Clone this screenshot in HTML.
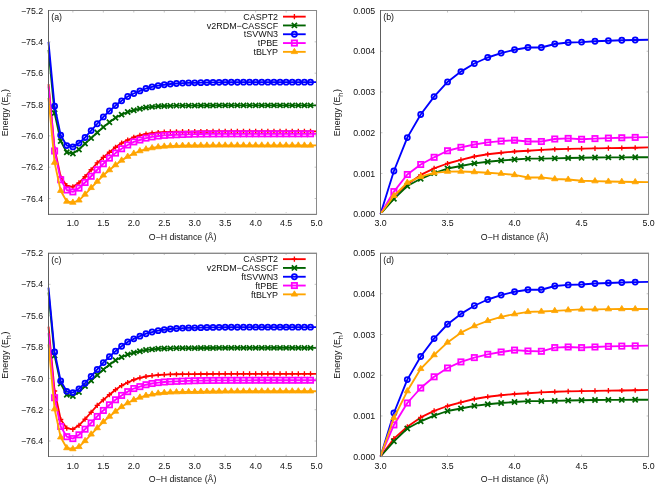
<!DOCTYPE html>
<html><head><meta charset="utf-8"><title>O-H dissociation curves</title>
<style>
html,body{margin:0;padding:0;background:#fff;}
body{width:664px;height:485px;overflow:hidden;font-family:"Liberation Sans",sans-serif;}
svg{display:block;will-change:transform;transform:translateZ(0);}
text{font-family:"Liberation Sans",sans-serif;}
</style></head><body>
<svg width="664" height="485" viewBox="0 0 664 485" font-family="Liberation Sans, sans-serif" font-size="8.8" fill="#111">
<rect width="664" height="485" fill="#fff"/>
<g transform="translate(0,0)">
<polyline points="48.5,84.2 54.59,148.5 60.69,177 66.78,185.7 72.87,186.8 78.97,182.9 85.06,176.7 91.15,169.75 97.25,162.9 103.34,157.4 109.43,152.25 115.53,147.25 121.62,143.1 127.71,140 133.8,137.25 139.9,135.4 145.99,134 152.08,133.1 158.18,132.5 164.27,132.1 170.36,131.9 176.46,131.75 182.55,131.7 188.64,131.65 194.74,131.6 200.83,131.53 206.92,131.48 213.02,131.45 219.11,131.42 225.2,131.41 231.3,131.39 237.39,131.38 243.48,131.37 249.57,131.36 255.67,131.36 261.76,131.36 267.85,131.35 273.95,131.35 280.04,131.35 286.13,131.35 292.23,131.35 298.32,131.35 304.41,131.35 310.51,131.34 316.6,131.34" fill="none" stroke="#ff0000" stroke-width="1.85" stroke-linejoin="round"/>
<g fill="none" stroke="#ff0000" stroke-width="1.35">
<path d="M51.99 148.5H57.19M54.59 145.9V151.1"/>
<path d="M58.09 177H63.29M60.69 174.4V179.6"/>
<path d="M64.18 185.7H69.38M66.78 183.1V188.3"/>
<path d="M70.27 186.8H75.47M72.87 184.2V189.4"/>
<path d="M76.37 182.9H81.57M78.97 180.3V185.5"/>
<path d="M82.46 176.7H87.66M85.06 174.1V179.3"/>
<path d="M88.55 169.75H93.75M91.15 167.15V172.35"/>
<path d="M94.65 162.9H99.85M97.25 160.3V165.5"/>
<path d="M100.74 157.4H105.94M103.34 154.8V160"/>
<path d="M106.83 152.25H112.03M109.43 149.65V154.85"/>
<path d="M112.93 147.25H118.12M115.53 144.65V149.85"/>
<path d="M119.02 143.1H124.22M121.62 140.5V145.7"/>
<path d="M125.11 140H130.31M127.71 137.4V142.6"/>
<path d="M131.2 137.25H136.4M133.8 134.65V139.85"/>
<path d="M137.3 135.4H142.5M139.9 132.8V138"/>
<path d="M143.39 134H148.59M145.99 131.4V136.6"/>
<path d="M149.48 133.1H154.68M152.08 130.5V135.7"/>
<path d="M155.58 132.5H160.78M158.18 129.9V135.1"/>
<path d="M161.67 132.1H166.87M164.27 129.5V134.7"/>
<path d="M167.76 131.9H172.96M170.36 129.3V134.5"/>
<path d="M173.86 131.75H179.06M176.46 129.15V134.35"/>
<path d="M179.95 131.7H185.15M182.55 129.1V134.3"/>
<path d="M186.04 131.65H191.24M188.64 129.05V134.25"/>
<path d="M192.14 131.6H197.34M194.74 129V134.2"/>
<path d="M198.23 131.53H203.43M200.83 128.93V134.13"/>
<path d="M204.32 131.48H209.52M206.92 128.88V134.08"/>
<path d="M210.42 131.45H215.62M213.02 128.85V134.05"/>
<path d="M216.51 131.42H221.71M219.11 128.82V134.02"/>
<path d="M222.6 131.41H227.8M225.2 128.81V134"/>
<path d="M228.7 131.39H233.9M231.3 128.79V133.99"/>
<path d="M234.79 131.38H239.99M237.39 128.78V133.98"/>
<path d="M240.88 131.37H246.08M243.48 128.77V133.97"/>
<path d="M246.97 131.36H252.17M249.57 128.76V133.96"/>
<path d="M253.07 131.36H258.27M255.67 128.76V133.96"/>
<path d="M259.16 131.36H264.36M261.76 128.76V133.96"/>
<path d="M265.25 131.35H270.45M267.85 128.75V133.95"/>
<path d="M271.35 131.35H276.55M273.95 128.75V133.95"/>
<path d="M277.44 131.35H282.64M280.04 128.75V133.95"/>
<path d="M283.53 131.35H288.73M286.13 128.75V133.95"/>
<path d="M289.63 131.35H294.83M292.23 128.75V133.95"/>
<path d="M295.72 131.35H300.92M298.32 128.75V133.95"/>
<path d="M301.81 131.35H307.01M304.41 128.75V133.95"/>
<path d="M307.91 131.34H313.11M310.51 128.74V133.94"/>
</g>
<polyline points="48.5,50 54.59,113.1 60.69,141.1 66.78,152.25 72.87,153.5 78.97,149.5 85.06,143.6 91.15,138.1 97.25,132.5 103.34,127.1 109.43,122.25 115.53,117.75 121.62,114.6 127.71,112 133.8,110.25 139.9,108.75 145.99,107.5 152.08,106.9 158.18,106.25 164.27,106 170.36,105.8 176.46,105.7 182.55,105.65 188.64,105.6 194.74,105.6 200.83,105.54 206.92,105.49 213.02,105.46 219.11,105.44 225.2,105.42 231.3,105.41 237.39,105.4 243.48,105.4 249.57,105.39 255.67,105.39 261.76,105.39 267.85,105.39 273.95,105.39 280.04,105.38 286.13,105.38 292.23,105.38 298.32,105.38 304.41,105.38 310.51,105.38 316.6,105.38" fill="none" stroke="#006400" stroke-width="1.85" stroke-linejoin="round"/>
<g fill="none" stroke="#006400" stroke-width="1.75">
<path d="M52.04 110.55L57.14 115.65M52.04 115.65L57.14 110.55"/>
<path d="M58.14 138.55L63.24 143.65M58.14 143.65L63.24 138.55"/>
<path d="M64.23 149.7L69.33 154.8M64.23 154.8L69.33 149.7"/>
<path d="M70.32 150.95L75.42 156.05M70.32 156.05L75.42 150.95"/>
<path d="M76.42 146.95L81.52 152.05M76.42 152.05L81.52 146.95"/>
<path d="M82.51 141.05L87.61 146.15M82.51 146.15L87.61 141.05"/>
<path d="M88.6 135.55L93.7 140.65M88.6 140.65L93.7 135.55"/>
<path d="M94.7 129.95L99.8 135.05M94.7 135.05L99.8 129.95"/>
<path d="M100.79 124.55L105.89 129.65M100.79 129.65L105.89 124.55"/>
<path d="M106.88 119.7L111.98 124.8M106.88 124.8L111.98 119.7"/>
<path d="M112.98 115.2L118.08 120.3M112.98 120.3L118.08 115.2"/>
<path d="M119.07 112.05L124.17 117.15M119.07 117.15L124.17 112.05"/>
<path d="M125.16 109.45L130.26 114.55M125.16 114.55L130.26 109.45"/>
<path d="M131.25 107.7L136.35 112.8M131.25 112.8L136.35 107.7"/>
<path d="M137.35 106.2L142.45 111.3M137.35 111.3L142.45 106.2"/>
<path d="M143.44 104.95L148.54 110.05M143.44 110.05L148.54 104.95"/>
<path d="M149.53 104.35L154.63 109.45M149.53 109.45L154.63 104.35"/>
<path d="M155.63 103.7L160.73 108.8M155.63 108.8L160.73 103.7"/>
<path d="M161.72 103.45L166.82 108.55M161.72 108.55L166.82 103.45"/>
<path d="M167.81 103.25L172.91 108.35M167.81 108.35L172.91 103.25"/>
<path d="M173.91 103.15L179.01 108.25M173.91 108.25L179.01 103.15"/>
<path d="M180 103.1L185.1 108.2M180 108.2L185.1 103.1"/>
<path d="M186.09 103.05L191.19 108.15M186.09 108.15L191.19 103.05"/>
<path d="M192.19 103.05L197.29 108.15M192.19 108.15L197.29 103.05"/>
<path d="M198.28 102.99L203.38 108.09M198.28 108.09L203.38 102.99"/>
<path d="M204.37 102.94L209.47 108.04M204.37 108.04L209.47 102.94"/>
<path d="M210.47 102.91L215.57 108.01M210.47 108.01L215.57 102.91"/>
<path d="M216.56 102.89L221.66 107.99M216.56 107.99L221.66 102.89"/>
<path d="M222.65 102.87L227.75 107.97M222.65 107.97L227.75 102.87"/>
<path d="M228.75 102.86L233.85 107.96M228.75 107.96L233.85 102.86"/>
<path d="M234.84 102.85L239.94 107.95M234.84 107.95L239.94 102.85"/>
<path d="M240.93 102.85L246.03 107.95M240.93 107.95L246.03 102.85"/>
<path d="M247.02 102.84L252.12 107.94M247.02 107.94L252.12 102.84"/>
<path d="M253.12 102.84L258.22 107.94M253.12 107.94L258.22 102.84"/>
<path d="M259.21 102.84L264.31 107.94M259.21 107.94L264.31 102.84"/>
<path d="M265.3 102.84L270.4 107.94M265.3 107.94L270.4 102.84"/>
<path d="M271.4 102.84L276.5 107.94M271.4 107.94L276.5 102.84"/>
<path d="M277.49 102.83L282.59 107.93M277.49 107.93L282.59 102.83"/>
<path d="M283.58 102.83L288.68 107.93M283.58 107.93L288.68 102.83"/>
<path d="M289.68 102.83L294.78 107.93M289.68 107.93L294.78 102.83"/>
<path d="M295.77 102.83L300.87 107.93M295.77 107.93L300.87 102.83"/>
<path d="M301.86 102.83L306.96 107.93M301.86 107.93L306.96 102.83"/>
<path d="M307.96 102.83L313.06 107.93M307.96 107.93L313.06 102.83"/>
</g>
<polyline points="48.5,42 54.59,106.25 60.69,135.25 66.78,145.6 72.87,146.9 78.97,143.1 85.06,137.5 91.15,130.6 97.25,123.75 103.34,116.9 109.43,111 115.53,105.6 121.62,100.8 127.71,96.5 133.8,93.5 139.9,90.9 145.99,88.5 152.08,86.9 158.18,85.6 164.27,84.75 170.36,84 176.46,83.5 182.55,83.1 188.64,82.9 194.74,82.8 200.83,82.63 206.92,82.51 213.02,82.42 219.11,82.35 225.2,82.29 231.3,82.25 237.39,82.22 243.48,82.2 249.57,82.18 255.67,82.17 261.76,82.16 267.85,82.16 273.95,82.15 280.04,82.14 286.13,82.14 292.23,82.13 298.32,82.13 304.41,82.13 310.51,82.13 316.6,82.13" fill="none" stroke="#0000ff" stroke-width="1.85" stroke-linejoin="round"/>
<g fill="none" stroke="#0000ff" stroke-width="1.75">
<circle cx="54.59" cy="106.25" r="2.55"/>
<circle cx="60.69" cy="135.25" r="2.55"/>
<circle cx="66.78" cy="145.6" r="2.55"/>
<circle cx="72.87" cy="146.9" r="2.55"/>
<circle cx="78.97" cy="143.1" r="2.55"/>
<circle cx="85.06" cy="137.5" r="2.55"/>
<circle cx="91.15" cy="130.6" r="2.55"/>
<circle cx="97.25" cy="123.75" r="2.55"/>
<circle cx="103.34" cy="116.9" r="2.55"/>
<circle cx="109.43" cy="111" r="2.55"/>
<circle cx="115.53" cy="105.6" r="2.55"/>
<circle cx="121.62" cy="100.8" r="2.55"/>
<circle cx="127.71" cy="96.5" r="2.55"/>
<circle cx="133.8" cy="93.5" r="2.55"/>
<circle cx="139.9" cy="90.9" r="2.55"/>
<circle cx="145.99" cy="88.5" r="2.55"/>
<circle cx="152.08" cy="86.9" r="2.55"/>
<circle cx="158.18" cy="85.6" r="2.55"/>
<circle cx="164.27" cy="84.75" r="2.55"/>
<circle cx="170.36" cy="84" r="2.55"/>
<circle cx="176.46" cy="83.5" r="2.55"/>
<circle cx="182.55" cy="83.1" r="2.55"/>
<circle cx="188.64" cy="82.9" r="2.55"/>
<circle cx="194.74" cy="82.8" r="2.55"/>
<circle cx="200.83" cy="82.63" r="2.55"/>
<circle cx="206.92" cy="82.51" r="2.55"/>
<circle cx="213.02" cy="82.42" r="2.55"/>
<circle cx="219.11" cy="82.35" r="2.55"/>
<circle cx="225.2" cy="82.29" r="2.55"/>
<circle cx="231.3" cy="82.25" r="2.55"/>
<circle cx="237.39" cy="82.22" r="2.55"/>
<circle cx="243.48" cy="82.2" r="2.55"/>
<circle cx="249.57" cy="82.18" r="2.55"/>
<circle cx="255.67" cy="82.17" r="2.55"/>
<circle cx="261.76" cy="82.16" r="2.55"/>
<circle cx="267.85" cy="82.16" r="2.55"/>
<circle cx="273.95" cy="82.15" r="2.55"/>
<circle cx="280.04" cy="82.14" r="2.55"/>
<circle cx="286.13" cy="82.14" r="2.55"/>
<circle cx="292.23" cy="82.13" r="2.55"/>
<circle cx="298.32" cy="82.13" r="2.55"/>
<circle cx="304.41" cy="82.13" r="2.55"/>
<circle cx="310.51" cy="82.13" r="2.55"/>
</g>
<polyline points="48.5,86.5 54.59,151 60.69,179.75 66.78,190 72.87,191.9 78.97,188.1 85.06,182.5 91.15,176.25 97.25,169.75 103.34,163.75 109.43,158.1 115.53,153.1 121.62,148.75 127.71,145 133.8,141.9 139.9,140 145.99,138.1 152.08,136.9 158.18,136 164.27,135.4 170.36,135 176.46,134.75 182.55,134.5 188.64,134.3 194.74,134.1 200.83,134.01 206.92,133.95 213.02,133.91 219.11,133.88 225.2,133.86 231.3,133.84 237.39,133.83 243.48,133.82 249.57,133.82 255.67,133.82 261.76,133.82 267.85,133.82 273.95,133.81 280.04,133.81 286.13,133.81 292.23,133.81 298.32,133.81 304.41,133.81 310.51,133.8 316.6,133.8" fill="none" stroke="#ff00ff" stroke-width="1.85" stroke-linejoin="round"/>
<g fill="none" stroke="#ff00ff" stroke-width="1.75">
<rect x="51.94" y="148.35" width="5.3" height="5.3"/>
<rect x="58.04" y="177.1" width="5.3" height="5.3"/>
<rect x="64.13" y="187.35" width="5.3" height="5.3"/>
<rect x="70.22" y="189.25" width="5.3" height="5.3"/>
<rect x="76.32" y="185.45" width="5.3" height="5.3"/>
<rect x="82.41" y="179.85" width="5.3" height="5.3"/>
<rect x="88.5" y="173.6" width="5.3" height="5.3"/>
<rect x="94.6" y="167.1" width="5.3" height="5.3"/>
<rect x="100.69" y="161.1" width="5.3" height="5.3"/>
<rect x="106.78" y="155.45" width="5.3" height="5.3"/>
<rect x="112.88" y="150.45" width="5.3" height="5.3"/>
<rect x="118.97" y="146.1" width="5.3" height="5.3"/>
<rect x="125.06" y="142.35" width="5.3" height="5.3"/>
<rect x="131.15" y="139.25" width="5.3" height="5.3"/>
<rect x="137.25" y="137.35" width="5.3" height="5.3"/>
<rect x="143.34" y="135.45" width="5.3" height="5.3"/>
<rect x="149.43" y="134.25" width="5.3" height="5.3"/>
<rect x="155.53" y="133.35" width="5.3" height="5.3"/>
<rect x="161.62" y="132.75" width="5.3" height="5.3"/>
<rect x="167.71" y="132.35" width="5.3" height="5.3"/>
<rect x="173.81" y="132.1" width="5.3" height="5.3"/>
<rect x="179.9" y="131.85" width="5.3" height="5.3"/>
<rect x="185.99" y="131.65" width="5.3" height="5.3"/>
<rect x="192.09" y="131.45" width="5.3" height="5.3"/>
<rect x="198.18" y="131.36" width="5.3" height="5.3"/>
<rect x="204.27" y="131.3" width="5.3" height="5.3"/>
<rect x="210.37" y="131.26" width="5.3" height="5.3"/>
<rect x="216.46" y="131.23" width="5.3" height="5.3"/>
<rect x="222.55" y="131.21" width="5.3" height="5.3"/>
<rect x="228.65" y="131.19" width="5.3" height="5.3"/>
<rect x="234.74" y="131.18" width="5.3" height="5.3"/>
<rect x="240.83" y="131.17" width="5.3" height="5.3"/>
<rect x="246.92" y="131.17" width="5.3" height="5.3"/>
<rect x="253.02" y="131.17" width="5.3" height="5.3"/>
<rect x="259.11" y="131.17" width="5.3" height="5.3"/>
<rect x="265.2" y="131.17" width="5.3" height="5.3"/>
<rect x="271.3" y="131.16" width="5.3" height="5.3"/>
<rect x="277.39" y="131.16" width="5.3" height="5.3"/>
<rect x="283.48" y="131.16" width="5.3" height="5.3"/>
<rect x="289.58" y="131.16" width="5.3" height="5.3"/>
<rect x="295.67" y="131.16" width="5.3" height="5.3"/>
<rect x="301.76" y="131.16" width="5.3" height="5.3"/>
<rect x="307.86" y="131.15" width="5.3" height="5.3"/>
</g>
<polyline points="48.5,97.8 54.59,162.6 60.69,190.7 66.78,201.5 72.87,202.5 78.97,200.3 85.06,194.4 91.15,187.8 97.25,181.5 103.34,175.3 109.43,170 115.53,165 121.62,160.4 127.71,156.6 133.8,153.5 139.9,151 145.99,149.2 152.08,148 158.18,147 164.27,146.4 170.36,146 176.46,145.8 182.55,145.6 188.64,145.5 194.74,145.5 200.83,145.43 206.92,145.38 213.02,145.36 219.11,145.34 225.2,145.34 231.3,145.34 237.39,145.34 243.48,145.34 249.57,145.34 255.67,145.35 261.76,145.36 267.85,145.36 273.95,145.36 280.04,145.37 286.13,145.37 292.23,145.37 298.32,145.37 304.41,145.38 310.51,145.38 316.6,145.38" fill="none" stroke="#ffa500" stroke-width="1.85" stroke-linejoin="round"/>
<g fill="#ffa500" stroke="#ffa500" stroke-width="0.8">
<path d="M54.59 159.05L57.79 164.35H51.39Z"/>
<path d="M60.69 187.15L63.89 192.45H57.49Z"/>
<path d="M66.78 197.95L69.98 203.25H63.58Z"/>
<path d="M72.87 198.95L76.07 204.25H69.67Z"/>
<path d="M78.97 196.75L82.17 202.05H75.77Z"/>
<path d="M85.06 190.85L88.26 196.15H81.86Z"/>
<path d="M91.15 184.25L94.35 189.55H87.95Z"/>
<path d="M97.25 177.95L100.45 183.25H94.05Z"/>
<path d="M103.34 171.75L106.54 177.05H100.14Z"/>
<path d="M109.43 166.45L112.63 171.75H106.23Z"/>
<path d="M115.53 161.45L118.73 166.75H112.33Z"/>
<path d="M121.62 156.85L124.82 162.15H118.42Z"/>
<path d="M127.71 153.05L130.91 158.35H124.51Z"/>
<path d="M133.8 149.95L137 155.25H130.6Z"/>
<path d="M139.9 147.45L143.1 152.75H136.7Z"/>
<path d="M145.99 145.65L149.19 150.95H142.79Z"/>
<path d="M152.08 144.45L155.28 149.75H148.88Z"/>
<path d="M158.18 143.45L161.38 148.75H154.98Z"/>
<path d="M164.27 142.85L167.47 148.15H161.07Z"/>
<path d="M170.36 142.45L173.56 147.75H167.16Z"/>
<path d="M176.46 142.25L179.66 147.55H173.26Z"/>
<path d="M182.55 142.05L185.75 147.35H179.35Z"/>
<path d="M188.64 141.95L191.84 147.25H185.44Z"/>
<path d="M194.74 141.95L197.94 147.25H191.54Z"/>
<path d="M200.83 141.88L204.03 147.18H197.63Z"/>
<path d="M206.92 141.83L210.12 147.13H203.72Z"/>
<path d="M213.02 141.81L216.22 147.11H209.82Z"/>
<path d="M219.11 141.79L222.31 147.09H215.91Z"/>
<path d="M225.2 141.79L228.4 147.09H222Z"/>
<path d="M231.3 141.79L234.5 147.09H228.1Z"/>
<path d="M237.39 141.79L240.59 147.09H234.19Z"/>
<path d="M243.48 141.79L246.68 147.09H240.28Z"/>
<path d="M249.57 141.79L252.77 147.09H246.38Z"/>
<path d="M255.67 141.8L258.87 147.1H252.47Z"/>
<path d="M261.76 141.81L264.96 147.11H258.56Z"/>
<path d="M267.85 141.81L271.05 147.11H264.65Z"/>
<path d="M273.95 141.81L277.15 147.11H270.75Z"/>
<path d="M280.04 141.82L283.24 147.12H276.84Z"/>
<path d="M286.13 141.82L289.33 147.12H282.93Z"/>
<path d="M292.23 141.82L295.43 147.12H289.03Z"/>
<path d="M298.32 141.82L301.52 147.12H295.12Z"/>
<path d="M304.41 141.83L307.61 147.13H301.21Z"/>
<path d="M310.51 141.83L313.71 147.13H307.31Z"/>
</g>
<text x="278.1" y="19.8" text-anchor="end" font-size="8.95">CASPT2</text>
<path d="M283 16.65H305.7" stroke="#ff0000" stroke-width="1.85" fill="none"/>
<g fill="none" stroke="#ff0000" stroke-width="1.35"><path d="M291.8 16.65H297M294.4 14.05V19.25"/></g>
<text x="278.1" y="28.6" text-anchor="end" font-size="8.95">v2RDM−CASSCF</text>
<path d="M283 25.45H305.7" stroke="#006400" stroke-width="1.85" fill="none"/>
<g fill="none" stroke="#006400" stroke-width="1.75"><path d="M291.85 22.9L296.95 28M291.85 28L296.95 22.9"/></g>
<text x="278.1" y="37.4" text-anchor="end" font-size="8.95">tSVWN3</text>
<path d="M283 34.25H305.7" stroke="#0000ff" stroke-width="1.85" fill="none"/>
<g fill="none" stroke="#0000ff" stroke-width="1.75"><circle cx="294.4" cy="34.25" r="2.55"/></g>
<text x="278.1" y="46.2" text-anchor="end" font-size="8.95">tPBE</text>
<path d="M283 43.05H305.7" stroke="#ff00ff" stroke-width="1.85" fill="none"/>
<g fill="none" stroke="#ff00ff" stroke-width="1.75"><rect x="291.75" y="40.4" width="5.3" height="5.3"/></g>
<text x="278.1" y="55" text-anchor="end" font-size="8.95">tBLYP</text>
<path d="M283 51.85H305.7" stroke="#ffa500" stroke-width="1.85" fill="none"/>
<g fill="#ffa500" stroke="#ffa500" stroke-width="0.8"><path d="M294.4 48.3L297.6 53.6H291.2Z"/></g>
<path d="M72.87 214.2v-2.0M72.87 10.5v2.0M103.34 214.2v-2.0M103.34 10.5v2.0M133.8 214.2v-2.0M133.8 10.5v2.0M164.27 214.2v-2.0M164.27 10.5v2.0M194.74 214.2v-2.0M194.74 10.5v2.0M225.2 214.2v-2.0M225.2 10.5v2.0M255.67 214.2v-2.0M255.67 10.5v2.0M286.13 214.2v-2.0M286.13 10.5v2.0M316.6 214.2v-2.0M316.6 10.5v2.0M48.5 198.53h2.0M316.6 198.53h-2.0M48.5 167.19h2.0M316.6 167.19h-2.0M48.5 135.85h2.0M316.6 135.85h-2.0M48.5 104.52h2.0M316.6 104.52h-2.0M48.5 73.18h2.0M316.6 73.18h-2.0M48.5 41.84h2.0M316.6 41.84h-2.0M48.5 10.5h2.0M316.6 10.5h-2.0" stroke="#8a8a8a" stroke-width="0.5" fill="none"/>
<path d="M48 213.5H317" stroke="#e8e8e8" stroke-width="1" fill="none"/>
<path d="M48 214.5H317" stroke="#7c7c7c" stroke-width="1" fill="none"/>
<path d="M48 10.5H317" stroke="#888" stroke-width="1" fill="none"/>
<path d="M316.5 10V215" stroke="#8a8a8a" stroke-width="1" fill="none"/>
<path d="M48.5 10V215" stroke="#5e5e5e" stroke-width="1" fill="none"/>
<text x="72.87" y="226" text-anchor="middle">1.0</text>
<text x="103.34" y="226" text-anchor="middle">1.5</text>
<text x="133.8" y="226" text-anchor="middle">2.0</text>
<text x="164.27" y="226" text-anchor="middle">2.5</text>
<text x="194.74" y="226" text-anchor="middle">3.0</text>
<text x="225.2" y="226" text-anchor="middle">3.5</text>
<text x="255.67" y="226" text-anchor="middle">4.0</text>
<text x="286.13" y="226" text-anchor="middle">4.5</text>
<text x="316.6" y="226" text-anchor="middle">5.0</text>
<text x="43.2" y="201.68" text-anchor="end">−76.4</text>
<text x="43.2" y="170.34" text-anchor="end">−76.2</text>
<text x="43.2" y="139" text-anchor="end">−76.0</text>
<text x="43.2" y="107.67" text-anchor="end">−75.8</text>
<text x="43.2" y="76.33" text-anchor="end">−75.6</text>
<text x="43.2" y="44.99" text-anchor="end">−75.4</text>
<text x="43.2" y="13.65" text-anchor="end">−75.2</text>
<text x="182.55" y="239.75" text-anchor="middle">O−H distance (Å)</text>
<text transform="translate(8.25,112.65) rotate(-90)" text-anchor="middle" font-size="8.9">Energy (E<tspan font-size="7.2" dy="2.8">h</tspan><tspan dy="-2.8" dx="0.6">)</tspan></text>
<text x="51.3" y="20.2">(a)</text>
</g>
<g transform="translate(332,0)">
<polyline points="48.5,214 61.91,196.1 75.31,184.25 88.71,174.9 102.12,168.4 115.53,163.5 128.93,159.9 142.34,156.5 155.74,154.25 169.14,152.75 182.55,151.5 195.95,150.75 209.36,149.9 222.76,149.25 236.17,148.9 249.58,148.6 262.98,148.4 276.39,148.1 289.79,148 303.2,147.75 316.6,147.3" fill="none" stroke="#ff0000" stroke-width="1.85" stroke-linejoin="round"/>
<g fill="none" stroke="#ff0000" stroke-width="1.35">
<path d="M59.31 196.1H64.51M61.91 193.5V198.7"/>
<path d="M72.71 184.25H77.91M75.31 181.65V186.85"/>
<path d="M86.11 174.9H91.31M88.71 172.3V177.5"/>
<path d="M99.52 168.4H104.72M102.12 165.8V171"/>
<path d="M112.93 163.5H118.12M115.53 160.9V166.1"/>
<path d="M126.33 159.9H131.53M128.93 157.3V162.5"/>
<path d="M139.74 156.5H144.94M142.34 153.9V159.1"/>
<path d="M153.14 154.25H158.34M155.74 151.65V156.85"/>
<path d="M166.54 152.75H171.74M169.14 150.15V155.35"/>
<path d="M179.95 151.5H185.15M182.55 148.9V154.1"/>
<path d="M193.35 150.75H198.55M195.95 148.15V153.35"/>
<path d="M206.76 149.9H211.96M209.36 147.3V152.5"/>
<path d="M220.16 149.25H225.36M222.76 146.65V151.85"/>
<path d="M233.57 148.9H238.77M236.17 146.3V151.5"/>
<path d="M246.98 148.6H252.18M249.58 146V151.2"/>
<path d="M260.38 148.4H265.58M262.98 145.8V151"/>
<path d="M273.79 148.1H278.99M276.39 145.5V150.7"/>
<path d="M287.19 148H292.39M289.79 145.4V150.6"/>
<path d="M300.6 147.75H305.8M303.2 145.15V150.35"/>
</g>
<polyline points="48.5,214 61.91,198.8 75.31,186 88.71,178.8 102.12,173.2 115.53,168.5 128.93,166 142.34,163.4 155.74,161.75 169.14,160.5 182.55,159.5 195.95,158.7 209.36,158.6 222.76,158.4 236.17,158 249.58,157.75 262.98,157.5 276.39,157.4 289.79,157.4 303.2,157.25 316.6,157.25" fill="none" stroke="#006400" stroke-width="1.85" stroke-linejoin="round"/>
<g fill="none" stroke="#006400" stroke-width="1.75">
<path d="M59.36 196.25L64.46 201.35M59.36 201.35L64.46 196.25"/>
<path d="M72.76 183.45L77.86 188.55M72.76 188.55L77.86 183.45"/>
<path d="M86.16 176.25L91.26 181.35M86.16 181.35L91.26 176.25"/>
<path d="M99.57 170.65L104.67 175.75M99.57 175.75L104.67 170.65"/>
<path d="M112.98 165.95L118.08 171.05M112.98 171.05L118.08 165.95"/>
<path d="M126.38 163.45L131.48 168.55M126.38 168.55L131.48 163.45"/>
<path d="M139.79 160.85L144.89 165.95M139.79 165.95L144.89 160.85"/>
<path d="M153.19 159.2L158.29 164.3M153.19 164.3L158.29 159.2"/>
<path d="M166.59 157.95L171.69 163.05M166.59 163.05L171.69 157.95"/>
<path d="M180 156.95L185.1 162.05M180 162.05L185.1 156.95"/>
<path d="M193.4 156.15L198.5 161.25M193.4 161.25L198.5 156.15"/>
<path d="M206.81 156.05L211.91 161.15M206.81 161.15L211.91 156.05"/>
<path d="M220.21 155.85L225.31 160.95M220.21 160.95L225.31 155.85"/>
<path d="M233.62 155.45L238.72 160.55M233.62 160.55L238.72 155.45"/>
<path d="M247.03 155.2L252.13 160.3M247.03 160.3L252.13 155.2"/>
<path d="M260.43 154.95L265.53 160.05M260.43 160.05L265.53 154.95"/>
<path d="M273.84 154.85L278.94 159.95M273.84 159.95L278.94 154.85"/>
<path d="M287.24 154.85L292.34 159.95M287.24 159.95L292.34 154.85"/>
<path d="M300.65 154.7L305.75 159.8M300.65 159.8L305.75 154.7"/>
</g>
<polyline points="48.5,214 61.91,171 75.31,137.6 88.71,114.5 102.12,96.6 115.53,81.9 128.93,71.6 142.34,63.5 155.74,57.5 169.14,53.1 182.55,49.75 195.95,47.5 209.36,47.5 222.76,44 236.17,42.5 249.58,42.1 262.98,41.25 276.39,40.75 289.79,40.25 303.2,40 316.6,39.75" fill="none" stroke="#0000ff" stroke-width="1.85" stroke-linejoin="round"/>
<g fill="none" stroke="#0000ff" stroke-width="1.75">
<circle cx="61.91" cy="171" r="2.55"/>
<circle cx="75.31" cy="137.6" r="2.55"/>
<circle cx="88.71" cy="114.5" r="2.55"/>
<circle cx="102.12" cy="96.6" r="2.55"/>
<circle cx="115.53" cy="81.9" r="2.55"/>
<circle cx="128.93" cy="71.6" r="2.55"/>
<circle cx="142.34" cy="63.5" r="2.55"/>
<circle cx="155.74" cy="57.5" r="2.55"/>
<circle cx="169.14" cy="53.1" r="2.55"/>
<circle cx="182.55" cy="49.75" r="2.55"/>
<circle cx="195.95" cy="47.5" r="2.55"/>
<circle cx="209.36" cy="47.5" r="2.55"/>
<circle cx="222.76" cy="44" r="2.55"/>
<circle cx="236.17" cy="42.5" r="2.55"/>
<circle cx="249.58" cy="42.1" r="2.55"/>
<circle cx="262.98" cy="41.25" r="2.55"/>
<circle cx="276.39" cy="40.75" r="2.55"/>
<circle cx="289.79" cy="40.25" r="2.55"/>
<circle cx="303.2" cy="40" r="2.55"/>
</g>
<polyline points="48.5,214 61.91,191.6 75.31,174.5 88.71,164.5 102.12,157.3 115.53,150.75 128.93,147.3 142.34,144.5 155.74,142.4 169.14,141.1 182.55,140.25 195.95,141.5 209.36,141.5 222.76,139 236.17,138.4 249.58,139.25 262.98,138.6 276.39,138.1 289.79,137.75 303.2,137.4 316.6,137.1" fill="none" stroke="#ff00ff" stroke-width="1.85" stroke-linejoin="round"/>
<g fill="none" stroke="#ff00ff" stroke-width="1.75">
<rect x="59.26" y="188.95" width="5.3" height="5.3"/>
<rect x="72.66" y="171.85" width="5.3" height="5.3"/>
<rect x="86.06" y="161.85" width="5.3" height="5.3"/>
<rect x="99.47" y="154.65" width="5.3" height="5.3"/>
<rect x="112.88" y="148.1" width="5.3" height="5.3"/>
<rect x="126.28" y="144.65" width="5.3" height="5.3"/>
<rect x="139.69" y="141.85" width="5.3" height="5.3"/>
<rect x="153.09" y="139.75" width="5.3" height="5.3"/>
<rect x="166.49" y="138.45" width="5.3" height="5.3"/>
<rect x="179.9" y="137.6" width="5.3" height="5.3"/>
<rect x="193.3" y="138.85" width="5.3" height="5.3"/>
<rect x="206.71" y="138.85" width="5.3" height="5.3"/>
<rect x="220.11" y="136.35" width="5.3" height="5.3"/>
<rect x="233.52" y="135.75" width="5.3" height="5.3"/>
<rect x="246.93" y="136.6" width="5.3" height="5.3"/>
<rect x="260.33" y="135.95" width="5.3" height="5.3"/>
<rect x="273.74" y="135.45" width="5.3" height="5.3"/>
<rect x="287.14" y="135.1" width="5.3" height="5.3"/>
<rect x="300.55" y="134.75" width="5.3" height="5.3"/>
</g>
<polyline points="48.5,214 61.91,195.75 75.31,182.6 88.71,176.7 102.12,172.9 115.53,171.6 128.93,171.5 142.34,172 155.74,172.75 169.14,173.6 182.55,174.9 195.95,177.5 209.36,177.4 222.76,179 236.17,179.5 249.58,180.75 262.98,181.1 276.39,181.5 289.79,181.75 303.2,182 316.6,182.1" fill="none" stroke="#ffa500" stroke-width="1.85" stroke-linejoin="round"/>
<g fill="#ffa500" stroke="#ffa500" stroke-width="0.8">
<path d="M61.91 192.2L65.11 197.5H58.71Z"/>
<path d="M75.31 179.05L78.51 184.35H72.11Z"/>
<path d="M88.71 173.15L91.91 178.45H85.51Z"/>
<path d="M102.12 169.35L105.32 174.65H98.92Z"/>
<path d="M115.53 168.05L118.73 173.35H112.33Z"/>
<path d="M128.93 167.95L132.13 173.25H125.73Z"/>
<path d="M142.34 168.45L145.54 173.75H139.14Z"/>
<path d="M155.74 169.2L158.94 174.5H152.54Z"/>
<path d="M169.14 170.05L172.34 175.35H165.94Z"/>
<path d="M182.55 171.35L185.75 176.65H179.35Z"/>
<path d="M195.95 173.95L199.15 179.25H192.75Z"/>
<path d="M209.36 173.85L212.56 179.15H206.16Z"/>
<path d="M222.76 175.45L225.96 180.75H219.56Z"/>
<path d="M236.17 175.95L239.37 181.25H232.97Z"/>
<path d="M249.58 177.2L252.78 182.5H246.38Z"/>
<path d="M262.98 177.55L266.18 182.85H259.78Z"/>
<path d="M276.39 177.95L279.59 183.25H273.19Z"/>
<path d="M289.79 178.2L292.99 183.5H286.59Z"/>
<path d="M303.2 178.45L306.4 183.75H300Z"/>
</g>
<path d="M48.5 214.2v-2.0M48.5 10.5v2.0M115.53 214.2v-2.0M115.53 10.5v2.0M182.55 214.2v-2.0M182.55 10.5v2.0M249.58 214.2v-2.0M249.58 10.5v2.0M316.6 214.2v-2.0M316.6 10.5v2.0M48.5 214.2h2.0M316.6 214.2h-2.0M48.5 173.46h2.0M316.6 173.46h-2.0M48.5 132.72h2.0M316.6 132.72h-2.0M48.5 91.98h2.0M316.6 91.98h-2.0M48.5 51.24h2.0M316.6 51.24h-2.0M48.5 10.5h2.0M316.6 10.5h-2.0" stroke="#8a8a8a" stroke-width="0.5" fill="none"/>
<path d="M48 213.5H317" stroke="#e8e8e8" stroke-width="1" fill="none"/>
<path d="M48 214.5H317" stroke="#7c7c7c" stroke-width="1" fill="none"/>
<path d="M48 10.5H317" stroke="#888" stroke-width="1" fill="none"/>
<path d="M316.5 10V215" stroke="#8a8a8a" stroke-width="1" fill="none"/>
<path d="M48.5 10V215" stroke="#5e5e5e" stroke-width="1" fill="none"/>
<text x="48.5" y="226" text-anchor="middle">3.0</text>
<text x="115.53" y="226" text-anchor="middle">3.5</text>
<text x="182.55" y="226" text-anchor="middle">4.0</text>
<text x="249.58" y="226" text-anchor="middle">4.5</text>
<text x="316.6" y="226" text-anchor="middle">5.0</text>
<text x="43.2" y="217.35" text-anchor="end">0.000</text>
<text x="43.2" y="176.61" text-anchor="end">0.001</text>
<text x="43.2" y="135.87" text-anchor="end">0.002</text>
<text x="43.2" y="95.13" text-anchor="end">0.003</text>
<text x="43.2" y="54.39" text-anchor="end">0.004</text>
<text x="43.2" y="13.65" text-anchor="end">0.005</text>
<text x="182.55" y="239.75" text-anchor="middle">O−H distance (Å)</text>
<text transform="translate(8.25,112.65) rotate(-90)" text-anchor="middle" font-size="8.9">Energy (E<tspan font-size="7.2" dy="2.8">h</tspan><tspan dy="-2.8" dx="0.6">)</tspan></text>
<text x="51.3" y="20.2">(b)</text>
</g>
<g transform="translate(0,242.5)">
<polyline points="48.5,84.2 54.59,148.5 60.69,177 66.78,185.7 72.87,186.8 78.97,182.9 85.06,176.7 91.15,169.75 97.25,162.9 103.34,157.4 109.43,152.25 115.53,147.25 121.62,143.1 127.71,140 133.8,137.25 139.9,135.4 145.99,134 152.08,133.1 158.18,132.5 164.27,132.1 170.36,131.9 176.46,131.75 182.55,131.7 188.64,131.65 194.74,131.6 200.83,131.53 206.92,131.48 213.02,131.45 219.11,131.42 225.2,131.41 231.3,131.39 237.39,131.38 243.48,131.37 249.57,131.36 255.67,131.36 261.76,131.36 267.85,131.35 273.95,131.35 280.04,131.35 286.13,131.35 292.23,131.35 298.32,131.35 304.41,131.35 310.51,131.34 316.6,131.34" fill="none" stroke="#ff0000" stroke-width="1.85" stroke-linejoin="round"/>
<g fill="none" stroke="#ff0000" stroke-width="1.35">
<path d="M51.99 148.5H57.19M54.59 145.9V151.1"/>
<path d="M58.09 177H63.29M60.69 174.4V179.6"/>
<path d="M64.18 185.7H69.38M66.78 183.1V188.3"/>
<path d="M70.27 186.8H75.47M72.87 184.2V189.4"/>
<path d="M76.37 182.9H81.57M78.97 180.3V185.5"/>
<path d="M82.46 176.7H87.66M85.06 174.1V179.3"/>
<path d="M88.55 169.75H93.75M91.15 167.15V172.35"/>
<path d="M94.65 162.9H99.85M97.25 160.3V165.5"/>
<path d="M100.74 157.4H105.94M103.34 154.8V160"/>
<path d="M106.83 152.25H112.03M109.43 149.65V154.85"/>
<path d="M112.93 147.25H118.12M115.53 144.65V149.85"/>
<path d="M119.02 143.1H124.22M121.62 140.5V145.7"/>
<path d="M125.11 140H130.31M127.71 137.4V142.6"/>
<path d="M131.2 137.25H136.4M133.8 134.65V139.85"/>
<path d="M137.3 135.4H142.5M139.9 132.8V138"/>
<path d="M143.39 134H148.59M145.99 131.4V136.6"/>
<path d="M149.48 133.1H154.68M152.08 130.5V135.7"/>
<path d="M155.58 132.5H160.78M158.18 129.9V135.1"/>
<path d="M161.67 132.1H166.87M164.27 129.5V134.7"/>
<path d="M167.76 131.9H172.96M170.36 129.3V134.5"/>
<path d="M173.86 131.75H179.06M176.46 129.15V134.35"/>
<path d="M179.95 131.7H185.15M182.55 129.1V134.3"/>
<path d="M186.04 131.65H191.24M188.64 129.05V134.25"/>
<path d="M192.14 131.6H197.34M194.74 129V134.2"/>
<path d="M198.23 131.53H203.43M200.83 128.93V134.13"/>
<path d="M204.32 131.48H209.52M206.92 128.88V134.08"/>
<path d="M210.42 131.45H215.62M213.02 128.85V134.05"/>
<path d="M216.51 131.42H221.71M219.11 128.82V134.02"/>
<path d="M222.6 131.41H227.8M225.2 128.81V134"/>
<path d="M228.7 131.39H233.9M231.3 128.79V133.99"/>
<path d="M234.79 131.38H239.99M237.39 128.78V133.98"/>
<path d="M240.88 131.37H246.08M243.48 128.77V133.97"/>
<path d="M246.97 131.36H252.17M249.57 128.76V133.96"/>
<path d="M253.07 131.36H258.27M255.67 128.76V133.96"/>
<path d="M259.16 131.36H264.36M261.76 128.76V133.96"/>
<path d="M265.25 131.35H270.45M267.85 128.75V133.95"/>
<path d="M271.35 131.35H276.55M273.95 128.75V133.95"/>
<path d="M277.44 131.35H282.64M280.04 128.75V133.95"/>
<path d="M283.53 131.35H288.73M286.13 128.75V133.95"/>
<path d="M289.63 131.35H294.83M292.23 128.75V133.95"/>
<path d="M295.72 131.35H300.92M298.32 128.75V133.95"/>
<path d="M301.81 131.35H307.01M304.41 128.75V133.95"/>
<path d="M307.91 131.34H313.11M310.51 128.74V133.94"/>
</g>
<polyline points="48.5,50 54.59,113.1 60.69,141.1 66.78,152.25 72.87,153.5 78.97,149.5 85.06,143.6 91.15,138.1 97.25,132.5 103.34,127.1 109.43,122.25 115.53,117.75 121.62,114.6 127.71,112 133.8,110.25 139.9,108.75 145.99,107.5 152.08,106.9 158.18,106.25 164.27,106 170.36,105.8 176.46,105.7 182.55,105.65 188.64,105.6 194.74,105.6 200.83,105.54 206.92,105.49 213.02,105.46 219.11,105.44 225.2,105.42 231.3,105.41 237.39,105.4 243.48,105.4 249.57,105.39 255.67,105.39 261.76,105.39 267.85,105.39 273.95,105.39 280.04,105.38 286.13,105.38 292.23,105.38 298.32,105.38 304.41,105.38 310.51,105.38 316.6,105.38" fill="none" stroke="#006400" stroke-width="1.85" stroke-linejoin="round"/>
<g fill="none" stroke="#006400" stroke-width="1.75">
<path d="M52.04 110.55L57.14 115.65M52.04 115.65L57.14 110.55"/>
<path d="M58.14 138.55L63.24 143.65M58.14 143.65L63.24 138.55"/>
<path d="M64.23 149.7L69.33 154.8M64.23 154.8L69.33 149.7"/>
<path d="M70.32 150.95L75.42 156.05M70.32 156.05L75.42 150.95"/>
<path d="M76.42 146.95L81.52 152.05M76.42 152.05L81.52 146.95"/>
<path d="M82.51 141.05L87.61 146.15M82.51 146.15L87.61 141.05"/>
<path d="M88.6 135.55L93.7 140.65M88.6 140.65L93.7 135.55"/>
<path d="M94.7 129.95L99.8 135.05M94.7 135.05L99.8 129.95"/>
<path d="M100.79 124.55L105.89 129.65M100.79 129.65L105.89 124.55"/>
<path d="M106.88 119.7L111.98 124.8M106.88 124.8L111.98 119.7"/>
<path d="M112.98 115.2L118.08 120.3M112.98 120.3L118.08 115.2"/>
<path d="M119.07 112.05L124.17 117.15M119.07 117.15L124.17 112.05"/>
<path d="M125.16 109.45L130.26 114.55M125.16 114.55L130.26 109.45"/>
<path d="M131.25 107.7L136.35 112.8M131.25 112.8L136.35 107.7"/>
<path d="M137.35 106.2L142.45 111.3M137.35 111.3L142.45 106.2"/>
<path d="M143.44 104.95L148.54 110.05M143.44 110.05L148.54 104.95"/>
<path d="M149.53 104.35L154.63 109.45M149.53 109.45L154.63 104.35"/>
<path d="M155.63 103.7L160.73 108.8M155.63 108.8L160.73 103.7"/>
<path d="M161.72 103.45L166.82 108.55M161.72 108.55L166.82 103.45"/>
<path d="M167.81 103.25L172.91 108.35M167.81 108.35L172.91 103.25"/>
<path d="M173.91 103.15L179.01 108.25M173.91 108.25L179.01 103.15"/>
<path d="M180 103.1L185.1 108.2M180 108.2L185.1 103.1"/>
<path d="M186.09 103.05L191.19 108.15M186.09 108.15L191.19 103.05"/>
<path d="M192.19 103.05L197.29 108.15M192.19 108.15L197.29 103.05"/>
<path d="M198.28 102.99L203.38 108.09M198.28 108.09L203.38 102.99"/>
<path d="M204.37 102.94L209.47 108.04M204.37 108.04L209.47 102.94"/>
<path d="M210.47 102.91L215.57 108.01M210.47 108.01L215.57 102.91"/>
<path d="M216.56 102.89L221.66 107.99M216.56 107.99L221.66 102.89"/>
<path d="M222.65 102.87L227.75 107.97M222.65 107.97L227.75 102.87"/>
<path d="M228.75 102.86L233.85 107.96M228.75 107.96L233.85 102.86"/>
<path d="M234.84 102.85L239.94 107.95M234.84 107.95L239.94 102.85"/>
<path d="M240.93 102.85L246.03 107.95M240.93 107.95L246.03 102.85"/>
<path d="M247.02 102.84L252.12 107.94M247.02 107.94L252.12 102.84"/>
<path d="M253.12 102.84L258.22 107.94M253.12 107.94L258.22 102.84"/>
<path d="M259.21 102.84L264.31 107.94M259.21 107.94L264.31 102.84"/>
<path d="M265.3 102.84L270.4 107.94M265.3 107.94L270.4 102.84"/>
<path d="M271.4 102.84L276.5 107.94M271.4 107.94L276.5 102.84"/>
<path d="M277.49 102.83L282.59 107.93M277.49 107.93L282.59 102.83"/>
<path d="M283.58 102.83L288.68 107.93M283.58 107.93L288.68 102.83"/>
<path d="M289.68 102.83L294.78 107.93M289.68 107.93L294.78 102.83"/>
<path d="M295.77 102.83L300.87 107.93M295.77 107.93L300.87 102.83"/>
<path d="M301.86 102.83L306.96 107.93M301.86 107.93L306.96 102.83"/>
<path d="M307.96 102.83L313.06 107.93M307.96 107.93L313.06 102.83"/>
</g>
<polyline points="48.5,45.2 54.59,109.45 60.69,138.45 66.78,148.8 72.87,150.1 78.97,146.3 85.06,140.7 91.15,133.8 97.25,126.95 103.34,120.1 109.43,114.13 115.53,108.66 121.62,103.79 127.71,99.42 133.8,96.35 139.9,93.68 145.99,91.21 152.08,89.54 158.18,88.17 164.27,87.25 170.36,86.5 176.46,86 182.55,85.6 188.64,85.4 194.74,85.3 200.83,85.13 206.92,85.01 213.02,84.92 219.11,84.85 225.2,84.79 231.3,84.75 237.39,84.72 243.48,84.7 249.57,84.68 255.67,84.67 261.76,84.66 267.85,84.66 273.95,84.65 280.04,84.64 286.13,84.64 292.23,84.63 298.32,84.63 304.41,84.63 310.51,84.63 316.6,84.63" fill="none" stroke="#0000ff" stroke-width="1.85" stroke-linejoin="round"/>
<g fill="none" stroke="#0000ff" stroke-width="1.75">
<circle cx="54.59" cy="109.45" r="2.55"/>
<circle cx="60.69" cy="138.45" r="2.55"/>
<circle cx="66.78" cy="148.8" r="2.55"/>
<circle cx="72.87" cy="150.1" r="2.55"/>
<circle cx="78.97" cy="146.3" r="2.55"/>
<circle cx="85.06" cy="140.7" r="2.55"/>
<circle cx="91.15" cy="133.8" r="2.55"/>
<circle cx="97.25" cy="126.95" r="2.55"/>
<circle cx="103.34" cy="120.1" r="2.55"/>
<circle cx="109.43" cy="114.13" r="2.55"/>
<circle cx="115.53" cy="108.66" r="2.55"/>
<circle cx="121.62" cy="103.79" r="2.55"/>
<circle cx="127.71" cy="99.42" r="2.55"/>
<circle cx="133.8" cy="96.35" r="2.55"/>
<circle cx="139.9" cy="93.68" r="2.55"/>
<circle cx="145.99" cy="91.21" r="2.55"/>
<circle cx="152.08" cy="89.54" r="2.55"/>
<circle cx="158.18" cy="88.17" r="2.55"/>
<circle cx="164.27" cy="87.25" r="2.55"/>
<circle cx="170.36" cy="86.5" r="2.55"/>
<circle cx="176.46" cy="86" r="2.55"/>
<circle cx="182.55" cy="85.6" r="2.55"/>
<circle cx="188.64" cy="85.4" r="2.55"/>
<circle cx="194.74" cy="85.3" r="2.55"/>
<circle cx="200.83" cy="85.13" r="2.55"/>
<circle cx="206.92" cy="85.01" r="2.55"/>
<circle cx="213.02" cy="84.92" r="2.55"/>
<circle cx="219.11" cy="84.85" r="2.55"/>
<circle cx="225.2" cy="84.79" r="2.55"/>
<circle cx="231.3" cy="84.75" r="2.55"/>
<circle cx="237.39" cy="84.72" r="2.55"/>
<circle cx="243.48" cy="84.7" r="2.55"/>
<circle cx="249.57" cy="84.68" r="2.55"/>
<circle cx="255.67" cy="84.67" r="2.55"/>
<circle cx="261.76" cy="84.66" r="2.55"/>
<circle cx="267.85" cy="84.66" r="2.55"/>
<circle cx="273.95" cy="84.65" r="2.55"/>
<circle cx="280.04" cy="84.64" r="2.55"/>
<circle cx="286.13" cy="84.64" r="2.55"/>
<circle cx="292.23" cy="84.63" r="2.55"/>
<circle cx="298.32" cy="84.63" r="2.55"/>
<circle cx="304.41" cy="84.63" r="2.55"/>
<circle cx="310.51" cy="84.63" r="2.55"/>
</g>
<polyline points="48.5,90.7 54.59,155.2 60.69,183.95 66.78,194.2 72.87,196.1 78.97,192.3 85.06,186.7 91.15,180.45 97.25,173.95 103.34,167.95 109.43,162.29 115.53,157.28 121.62,152.92 127.71,149.16 133.8,146.05 139.9,144.14 145.99,142.23 152.08,141.02 158.18,140.11 164.27,139.5 170.36,139.1 176.46,138.85 182.55,138.6 188.64,138.4 194.74,138.2 200.83,138.08 206.92,137.99 213.02,137.94 219.11,137.89 225.2,137.86 231.3,137.84 237.39,137.82 243.48,137.81 249.57,137.8 255.67,137.79 261.76,137.79 267.85,137.79 273.95,137.78 280.04,137.78 286.13,137.78 292.23,137.78 298.32,137.78 304.41,137.77 310.51,137.77 316.6,137.77" fill="none" stroke="#ff00ff" stroke-width="1.85" stroke-linejoin="round"/>
<g fill="none" stroke="#ff00ff" stroke-width="1.75">
<rect x="51.94" y="152.55" width="5.3" height="5.3"/>
<rect x="58.04" y="181.3" width="5.3" height="5.3"/>
<rect x="64.13" y="191.55" width="5.3" height="5.3"/>
<rect x="70.22" y="193.45" width="5.3" height="5.3"/>
<rect x="76.32" y="189.65" width="5.3" height="5.3"/>
<rect x="82.41" y="184.05" width="5.3" height="5.3"/>
<rect x="88.5" y="177.8" width="5.3" height="5.3"/>
<rect x="94.6" y="171.3" width="5.3" height="5.3"/>
<rect x="100.69" y="165.3" width="5.3" height="5.3"/>
<rect x="106.78" y="159.64" width="5.3" height="5.3"/>
<rect x="112.88" y="154.63" width="5.3" height="5.3"/>
<rect x="118.97" y="150.27" width="5.3" height="5.3"/>
<rect x="125.06" y="146.51" width="5.3" height="5.3"/>
<rect x="131.15" y="143.4" width="5.3" height="5.3"/>
<rect x="137.25" y="141.49" width="5.3" height="5.3"/>
<rect x="143.34" y="139.58" width="5.3" height="5.3"/>
<rect x="149.43" y="138.37" width="5.3" height="5.3"/>
<rect x="155.53" y="137.46" width="5.3" height="5.3"/>
<rect x="161.62" y="136.85" width="5.3" height="5.3"/>
<rect x="167.71" y="136.45" width="5.3" height="5.3"/>
<rect x="173.81" y="136.2" width="5.3" height="5.3"/>
<rect x="179.9" y="135.95" width="5.3" height="5.3"/>
<rect x="185.99" y="135.75" width="5.3" height="5.3"/>
<rect x="192.09" y="135.55" width="5.3" height="5.3"/>
<rect x="198.18" y="135.43" width="5.3" height="5.3"/>
<rect x="204.27" y="135.34" width="5.3" height="5.3"/>
<rect x="210.37" y="135.29" width="5.3" height="5.3"/>
<rect x="216.46" y="135.24" width="5.3" height="5.3"/>
<rect x="222.55" y="135.21" width="5.3" height="5.3"/>
<rect x="228.65" y="135.19" width="5.3" height="5.3"/>
<rect x="234.74" y="135.17" width="5.3" height="5.3"/>
<rect x="240.83" y="135.16" width="5.3" height="5.3"/>
<rect x="246.92" y="135.15" width="5.3" height="5.3"/>
<rect x="253.02" y="135.14" width="5.3" height="5.3"/>
<rect x="259.11" y="135.14" width="5.3" height="5.3"/>
<rect x="265.2" y="135.14" width="5.3" height="5.3"/>
<rect x="271.3" y="135.13" width="5.3" height="5.3"/>
<rect x="277.39" y="135.13" width="5.3" height="5.3"/>
<rect x="283.48" y="135.13" width="5.3" height="5.3"/>
<rect x="289.58" y="135.13" width="5.3" height="5.3"/>
<rect x="295.67" y="135.13" width="5.3" height="5.3"/>
<rect x="301.76" y="135.12" width="5.3" height="5.3"/>
<rect x="307.86" y="135.12" width="5.3" height="5.3"/>
</g>
<polyline points="48.5,101.8 54.59,166.6 60.69,194.7 66.78,205.5 72.87,206.5 78.97,204.3 85.06,198.4 91.15,191.8 97.25,185.5 103.34,179.3 109.43,173.98 115.53,168.96 121.62,164.34 127.71,160.52 133.8,157.4 139.9,154.88 145.99,153.06 152.08,151.84 158.18,150.82 164.27,150.2 170.36,149.8 176.46,149.6 182.55,149.4 188.64,149.3 194.74,149.3 200.83,149.15 206.92,149.05 213.02,148.96 219.11,148.91 225.2,148.86 231.3,148.82 237.39,148.8 243.48,148.78 249.57,148.76 255.67,148.75 261.76,148.74 267.85,148.74 273.95,148.74 280.04,148.74 286.13,148.73 292.23,148.73 298.32,148.73 304.41,148.73 310.51,148.73 316.6,148.73" fill="none" stroke="#ffa500" stroke-width="1.85" stroke-linejoin="round"/>
<g fill="#ffa500" stroke="#ffa500" stroke-width="0.8">
<path d="M54.59 163.05L57.79 168.35H51.39Z"/>
<path d="M60.69 191.15L63.89 196.45H57.49Z"/>
<path d="M66.78 201.95L69.98 207.25H63.58Z"/>
<path d="M72.87 202.95L76.07 208.25H69.67Z"/>
<path d="M78.97 200.75L82.17 206.05H75.77Z"/>
<path d="M85.06 194.85L88.26 200.15H81.86Z"/>
<path d="M91.15 188.25L94.35 193.55H87.95Z"/>
<path d="M97.25 181.95L100.45 187.25H94.05Z"/>
<path d="M103.34 175.75L106.54 181.05H100.14Z"/>
<path d="M109.43 170.43L112.63 175.73H106.23Z"/>
<path d="M115.53 165.41L118.73 170.71H112.33Z"/>
<path d="M121.62 160.79L124.82 166.09H118.42Z"/>
<path d="M127.71 156.97L130.91 162.27H124.51Z"/>
<path d="M133.8 153.85L137 159.15H130.6Z"/>
<path d="M139.9 151.33L143.1 156.63H136.7Z"/>
<path d="M145.99 149.51L149.19 154.81H142.79Z"/>
<path d="M152.08 148.29L155.28 153.59H148.88Z"/>
<path d="M158.18 147.27L161.38 152.57H154.98Z"/>
<path d="M164.27 146.65L167.47 151.95H161.07Z"/>
<path d="M170.36 146.25L173.56 151.55H167.16Z"/>
<path d="M176.46 146.05L179.66 151.35H173.26Z"/>
<path d="M182.55 145.85L185.75 151.15H179.35Z"/>
<path d="M188.64 145.75L191.84 151.05H185.44Z"/>
<path d="M194.74 145.75L197.94 151.05H191.54Z"/>
<path d="M200.83 145.6L204.03 150.9H197.63Z"/>
<path d="M206.92 145.5L210.12 150.8H203.72Z"/>
<path d="M213.02 145.41L216.22 150.71H209.82Z"/>
<path d="M219.11 145.36L222.31 150.66H215.91Z"/>
<path d="M225.2 145.31L228.4 150.61H222Z"/>
<path d="M231.3 145.27L234.5 150.57H228.1Z"/>
<path d="M237.39 145.25L240.59 150.55H234.19Z"/>
<path d="M243.48 145.23L246.68 150.53H240.28Z"/>
<path d="M249.57 145.21L252.77 150.51H246.38Z"/>
<path d="M255.67 145.2L258.87 150.5H252.47Z"/>
<path d="M261.76 145.19L264.96 150.49H258.56Z"/>
<path d="M267.85 145.19L271.05 150.49H264.65Z"/>
<path d="M273.95 145.19L277.15 150.49H270.75Z"/>
<path d="M280.04 145.19L283.24 150.49H276.84Z"/>
<path d="M286.13 145.18L289.33 150.48H282.93Z"/>
<path d="M292.23 145.18L295.43 150.48H289.03Z"/>
<path d="M298.32 145.18L301.52 150.48H295.12Z"/>
<path d="M304.41 145.18L307.61 150.48H301.21Z"/>
<path d="M310.51 145.18L313.71 150.48H307.31Z"/>
</g>
<text x="278.1" y="19.8" text-anchor="end" font-size="8.95">CASPT2</text>
<path d="M283 16.65H305.7" stroke="#ff0000" stroke-width="1.85" fill="none"/>
<g fill="none" stroke="#ff0000" stroke-width="1.35"><path d="M291.8 16.65H297M294.4 14.05V19.25"/></g>
<text x="278.1" y="28.6" text-anchor="end" font-size="8.95">v2RDM−CASSCF</text>
<path d="M283 25.45H305.7" stroke="#006400" stroke-width="1.85" fill="none"/>
<g fill="none" stroke="#006400" stroke-width="1.75"><path d="M291.85 22.9L296.95 28M291.85 28L296.95 22.9"/></g>
<text x="278.1" y="37.4" text-anchor="end" font-size="8.95">ftSVWN3</text>
<path d="M283 34.25H305.7" stroke="#0000ff" stroke-width="1.85" fill="none"/>
<g fill="none" stroke="#0000ff" stroke-width="1.75"><circle cx="294.4" cy="34.25" r="2.55"/></g>
<text x="278.1" y="46.2" text-anchor="end" font-size="8.95">ftPBE</text>
<path d="M283 43.05H305.7" stroke="#ff00ff" stroke-width="1.85" fill="none"/>
<g fill="none" stroke="#ff00ff" stroke-width="1.75"><rect x="291.75" y="40.4" width="5.3" height="5.3"/></g>
<text x="278.1" y="55" text-anchor="end" font-size="8.95">ftBLYP</text>
<path d="M283 51.85H305.7" stroke="#ffa500" stroke-width="1.85" fill="none"/>
<g fill="#ffa500" stroke="#ffa500" stroke-width="0.8"><path d="M294.4 48.3L297.6 53.6H291.2Z"/></g>
<path d="M72.87 214.2v-2.0M72.87 10.5v2.0M103.34 214.2v-2.0M103.34 10.5v2.0M133.8 214.2v-2.0M133.8 10.5v2.0M164.27 214.2v-2.0M164.27 10.5v2.0M194.74 214.2v-2.0M194.74 10.5v2.0M225.2 214.2v-2.0M225.2 10.5v2.0M255.67 214.2v-2.0M255.67 10.5v2.0M286.13 214.2v-2.0M286.13 10.5v2.0M316.6 214.2v-2.0M316.6 10.5v2.0M48.5 198.53h2.0M316.6 198.53h-2.0M48.5 167.19h2.0M316.6 167.19h-2.0M48.5 135.85h2.0M316.6 135.85h-2.0M48.5 104.52h2.0M316.6 104.52h-2.0M48.5 73.18h2.0M316.6 73.18h-2.0M48.5 41.84h2.0M316.6 41.84h-2.0M48.5 10.5h2.0M316.6 10.5h-2.0" stroke="#8a8a8a" stroke-width="0.5" fill="none"/>
<path d="M48 10.0H317" stroke="#d0d0d0" stroke-width="1" fill="none"/>
<path d="M48 11.0H317" stroke="#8a8a8a" stroke-width="1" fill="none"/>
<path d="M48 214.0H317" stroke="#8a8a8a" stroke-width="1" fill="none"/>
<path d="M316.5 10.5V214.5" stroke="#8a8a8a" stroke-width="1" fill="none"/>
<path d="M48.5 10.5V214.5" stroke="#5e5e5e" stroke-width="1" fill="none"/>
<text x="72.87" y="226" text-anchor="middle">1.0</text>
<text x="103.34" y="226" text-anchor="middle">1.5</text>
<text x="133.8" y="226" text-anchor="middle">2.0</text>
<text x="164.27" y="226" text-anchor="middle">2.5</text>
<text x="194.74" y="226" text-anchor="middle">3.0</text>
<text x="225.2" y="226" text-anchor="middle">3.5</text>
<text x="255.67" y="226" text-anchor="middle">4.0</text>
<text x="286.13" y="226" text-anchor="middle">4.5</text>
<text x="316.6" y="226" text-anchor="middle">5.0</text>
<text x="43.2" y="201.68" text-anchor="end">−76.4</text>
<text x="43.2" y="170.34" text-anchor="end">−76.2</text>
<text x="43.2" y="139" text-anchor="end">−76.0</text>
<text x="43.2" y="107.67" text-anchor="end">−75.8</text>
<text x="43.2" y="76.33" text-anchor="end">−75.6</text>
<text x="43.2" y="44.99" text-anchor="end">−75.4</text>
<text x="43.2" y="13.65" text-anchor="end">−75.2</text>
<text x="182.55" y="239.75" text-anchor="middle">O−H distance (Å)</text>
<text transform="translate(8.25,112.65) rotate(-90)" text-anchor="middle" font-size="8.9">Energy (E<tspan font-size="7.2" dy="2.8">h</tspan><tspan dy="-2.8" dx="0.6">)</tspan></text>
<text x="51.3" y="20.2">(c)</text>
</g>
<g transform="translate(332,242.5)">
<polyline points="48.5,214 61.91,196.1 75.31,184.25 88.71,174.9 102.12,168.4 115.53,163.5 128.93,159.9 142.34,156.5 155.74,154.25 169.14,152.75 182.55,151.5 195.95,150.75 209.36,149.9 222.76,149.25 236.17,148.9 249.58,148.6 262.98,148.4 276.39,148.1 289.79,148 303.2,147.75 316.6,147.3" fill="none" stroke="#ff0000" stroke-width="1.85" stroke-linejoin="round"/>
<g fill="none" stroke="#ff0000" stroke-width="1.35">
<path d="M59.31 196.1H64.51M61.91 193.5V198.7"/>
<path d="M72.71 184.25H77.91M75.31 181.65V186.85"/>
<path d="M86.11 174.9H91.31M88.71 172.3V177.5"/>
<path d="M99.52 168.4H104.72M102.12 165.8V171"/>
<path d="M112.93 163.5H118.12M115.53 160.9V166.1"/>
<path d="M126.33 159.9H131.53M128.93 157.3V162.5"/>
<path d="M139.74 156.5H144.94M142.34 153.9V159.1"/>
<path d="M153.14 154.25H158.34M155.74 151.65V156.85"/>
<path d="M166.54 152.75H171.74M169.14 150.15V155.35"/>
<path d="M179.95 151.5H185.15M182.55 148.9V154.1"/>
<path d="M193.35 150.75H198.55M195.95 148.15V153.35"/>
<path d="M206.76 149.9H211.96M209.36 147.3V152.5"/>
<path d="M220.16 149.25H225.36M222.76 146.65V151.85"/>
<path d="M233.57 148.9H238.77M236.17 146.3V151.5"/>
<path d="M246.98 148.6H252.18M249.58 146V151.2"/>
<path d="M260.38 148.4H265.58M262.98 145.8V151"/>
<path d="M273.79 148.1H278.99M276.39 145.5V150.7"/>
<path d="M287.19 148H292.39M289.79 145.4V150.6"/>
<path d="M300.6 147.75H305.8M303.2 145.15V150.35"/>
</g>
<polyline points="48.5,214 61.91,198.8 75.31,186 88.71,178.8 102.12,173.2 115.53,168.5 128.93,166 142.34,163.4 155.74,161.75 169.14,160.5 182.55,159.5 195.95,158.7 209.36,158.6 222.76,158.4 236.17,158 249.58,157.75 262.98,157.5 276.39,157.4 289.79,157.4 303.2,157.25 316.6,157.25" fill="none" stroke="#006400" stroke-width="1.85" stroke-linejoin="round"/>
<g fill="none" stroke="#006400" stroke-width="1.75">
<path d="M59.36 196.25L64.46 201.35M59.36 201.35L64.46 196.25"/>
<path d="M72.76 183.45L77.86 188.55M72.76 188.55L77.86 183.45"/>
<path d="M86.16 176.25L91.26 181.35M86.16 181.35L91.26 176.25"/>
<path d="M99.57 170.65L104.67 175.75M99.57 175.75L104.67 170.65"/>
<path d="M112.98 165.95L118.08 171.05M112.98 171.05L118.08 165.95"/>
<path d="M126.38 163.45L131.48 168.55M126.38 168.55L131.48 163.45"/>
<path d="M139.79 160.85L144.89 165.95M139.79 165.95L144.89 160.85"/>
<path d="M153.19 159.2L158.29 164.3M153.19 164.3L158.29 159.2"/>
<path d="M166.59 157.95L171.69 163.05M166.59 163.05L171.69 157.95"/>
<path d="M180 156.95L185.1 162.05M180 162.05L185.1 156.95"/>
<path d="M193.4 156.15L198.5 161.25M193.4 161.25L198.5 156.15"/>
<path d="M206.81 156.05L211.91 161.15M206.81 161.15L211.91 156.05"/>
<path d="M220.21 155.85L225.31 160.95M220.21 160.95L225.31 155.85"/>
<path d="M233.62 155.45L238.72 160.55M233.62 160.55L238.72 155.45"/>
<path d="M247.03 155.2L252.13 160.3M247.03 160.3L252.13 155.2"/>
<path d="M260.43 154.95L265.53 160.05M260.43 160.05L265.53 154.95"/>
<path d="M273.84 154.85L278.94 159.95M273.84 159.95L278.94 154.85"/>
<path d="M287.24 154.85L292.34 159.95M287.24 159.95L292.34 154.85"/>
<path d="M300.65 154.7L305.75 159.8M300.65 159.8L305.75 154.7"/>
</g>
<polyline points="48.5,214 61.91,170.5 75.31,137.1 88.71,114 102.12,96.1 115.53,81.75 128.93,71.4 142.34,63.25 155.74,57 169.14,52.6 182.55,49.25 195.95,47.25 209.36,47.25 222.76,43.5 236.17,42.4 249.58,42 262.98,41 276.39,40.5 289.79,40 303.2,39.6 316.6,39.3" fill="none" stroke="#0000ff" stroke-width="1.85" stroke-linejoin="round"/>
<g fill="none" stroke="#0000ff" stroke-width="1.75">
<circle cx="61.91" cy="170.5" r="2.55"/>
<circle cx="75.31" cy="137.1" r="2.55"/>
<circle cx="88.71" cy="114" r="2.55"/>
<circle cx="102.12" cy="96.1" r="2.55"/>
<circle cx="115.53" cy="81.75" r="2.55"/>
<circle cx="128.93" cy="71.4" r="2.55"/>
<circle cx="142.34" cy="63.25" r="2.55"/>
<circle cx="155.74" cy="57" r="2.55"/>
<circle cx="169.14" cy="52.6" r="2.55"/>
<circle cx="182.55" cy="49.25" r="2.55"/>
<circle cx="195.95" cy="47.25" r="2.55"/>
<circle cx="209.36" cy="47.25" r="2.55"/>
<circle cx="222.76" cy="43.5" r="2.55"/>
<circle cx="236.17" cy="42.4" r="2.55"/>
<circle cx="249.58" cy="42" r="2.55"/>
<circle cx="262.98" cy="41" r="2.55"/>
<circle cx="276.39" cy="40.5" r="2.55"/>
<circle cx="289.79" cy="40" r="2.55"/>
<circle cx="303.2" cy="39.6" r="2.55"/>
</g>
<polyline points="48.5,214 61.91,182.4 75.31,160.5 88.71,145.5 102.12,134.3 115.53,125.5 128.93,119.4 142.34,115.1 155.74,111.8 169.14,109.5 182.55,107.6 195.95,108.5 209.36,108.8 222.76,105.1 236.17,104.5 249.58,105.1 262.98,104.5 276.39,103.9 289.79,103.6 303.2,103.4 316.6,103.2" fill="none" stroke="#ff00ff" stroke-width="1.85" stroke-linejoin="round"/>
<g fill="none" stroke="#ff00ff" stroke-width="1.75">
<rect x="59.26" y="179.75" width="5.3" height="5.3"/>
<rect x="72.66" y="157.85" width="5.3" height="5.3"/>
<rect x="86.06" y="142.85" width="5.3" height="5.3"/>
<rect x="99.47" y="131.65" width="5.3" height="5.3"/>
<rect x="112.88" y="122.85" width="5.3" height="5.3"/>
<rect x="126.28" y="116.75" width="5.3" height="5.3"/>
<rect x="139.69" y="112.45" width="5.3" height="5.3"/>
<rect x="153.09" y="109.15" width="5.3" height="5.3"/>
<rect x="166.49" y="106.85" width="5.3" height="5.3"/>
<rect x="179.9" y="104.95" width="5.3" height="5.3"/>
<rect x="193.3" y="105.85" width="5.3" height="5.3"/>
<rect x="206.71" y="106.15" width="5.3" height="5.3"/>
<rect x="220.11" y="102.45" width="5.3" height="5.3"/>
<rect x="233.52" y="101.85" width="5.3" height="5.3"/>
<rect x="246.93" y="102.45" width="5.3" height="5.3"/>
<rect x="260.33" y="101.85" width="5.3" height="5.3"/>
<rect x="273.74" y="101.25" width="5.3" height="5.3"/>
<rect x="287.14" y="100.95" width="5.3" height="5.3"/>
<rect x="300.55" y="100.75" width="5.3" height="5.3"/>
</g>
<polyline points="48.5,214 61.91,175.5 75.31,148.6 88.71,126.3 102.12,112.5 115.53,99.9 128.93,90.2 142.34,83.5 155.74,78.3 169.14,74.3 182.55,71.6 195.95,69.3 209.36,69 222.76,68.3 236.17,67.6 249.58,66.9 262.98,66.8 276.39,66.6 289.79,66.5 303.2,66.5 316.6,66.5" fill="none" stroke="#ffa500" stroke-width="1.85" stroke-linejoin="round"/>
<g fill="#ffa500" stroke="#ffa500" stroke-width="0.8">
<path d="M61.91 171.95L65.11 177.25H58.71Z"/>
<path d="M75.31 145.05L78.51 150.35H72.11Z"/>
<path d="M88.71 122.75L91.91 128.05H85.51Z"/>
<path d="M102.12 108.95L105.32 114.25H98.92Z"/>
<path d="M115.53 96.35L118.73 101.65H112.33Z"/>
<path d="M128.93 86.65L132.13 91.95H125.73Z"/>
<path d="M142.34 79.95L145.54 85.25H139.14Z"/>
<path d="M155.74 74.75L158.94 80.05H152.54Z"/>
<path d="M169.14 70.75L172.34 76.05H165.94Z"/>
<path d="M182.55 68.05L185.75 73.35H179.35Z"/>
<path d="M195.95 65.75L199.15 71.05H192.75Z"/>
<path d="M209.36 65.45L212.56 70.75H206.16Z"/>
<path d="M222.76 64.75L225.96 70.05H219.56Z"/>
<path d="M236.17 64.05L239.37 69.35H232.97Z"/>
<path d="M249.58 63.35L252.78 68.65H246.38Z"/>
<path d="M262.98 63.25L266.18 68.55H259.78Z"/>
<path d="M276.39 63.05L279.59 68.35H273.19Z"/>
<path d="M289.79 62.95L292.99 68.25H286.59Z"/>
<path d="M303.2 62.95L306.4 68.25H300Z"/>
</g>
<path d="M48.5 214.2v-2.0M48.5 10.5v2.0M115.53 214.2v-2.0M115.53 10.5v2.0M182.55 214.2v-2.0M182.55 10.5v2.0M249.58 214.2v-2.0M249.58 10.5v2.0M316.6 214.2v-2.0M316.6 10.5v2.0M48.5 214.2h2.0M316.6 214.2h-2.0M48.5 173.46h2.0M316.6 173.46h-2.0M48.5 132.72h2.0M316.6 132.72h-2.0M48.5 91.98h2.0M316.6 91.98h-2.0M48.5 51.24h2.0M316.6 51.24h-2.0M48.5 10.5h2.0M316.6 10.5h-2.0" stroke="#8a8a8a" stroke-width="0.5" fill="none"/>
<path d="M48 10.0H317" stroke="#d0d0d0" stroke-width="1" fill="none"/>
<path d="M48 11.0H317" stroke="#8a8a8a" stroke-width="1" fill="none"/>
<path d="M48 214.0H317" stroke="#8a8a8a" stroke-width="1" fill="none"/>
<path d="M316.5 10.5V214.5" stroke="#8a8a8a" stroke-width="1" fill="none"/>
<path d="M48.5 10.5V214.5" stroke="#5e5e5e" stroke-width="1" fill="none"/>
<text x="48.5" y="226" text-anchor="middle">3.0</text>
<text x="115.53" y="226" text-anchor="middle">3.5</text>
<text x="182.55" y="226" text-anchor="middle">4.0</text>
<text x="249.58" y="226" text-anchor="middle">4.5</text>
<text x="316.6" y="226" text-anchor="middle">5.0</text>
<text x="43.2" y="217.35" text-anchor="end">0.000</text>
<text x="43.2" y="176.61" text-anchor="end">0.001</text>
<text x="43.2" y="135.87" text-anchor="end">0.002</text>
<text x="43.2" y="95.13" text-anchor="end">0.003</text>
<text x="43.2" y="54.39" text-anchor="end">0.004</text>
<text x="43.2" y="13.65" text-anchor="end">0.005</text>
<text x="182.55" y="239.75" text-anchor="middle">O−H distance (Å)</text>
<text transform="translate(8.25,112.65) rotate(-90)" text-anchor="middle" font-size="8.9">Energy (E<tspan font-size="7.2" dy="2.8">h</tspan><tspan dy="-2.8" dx="0.6">)</tspan></text>
<text x="51.3" y="20.2">(d)</text>
</g>
</svg>
</body></html>
